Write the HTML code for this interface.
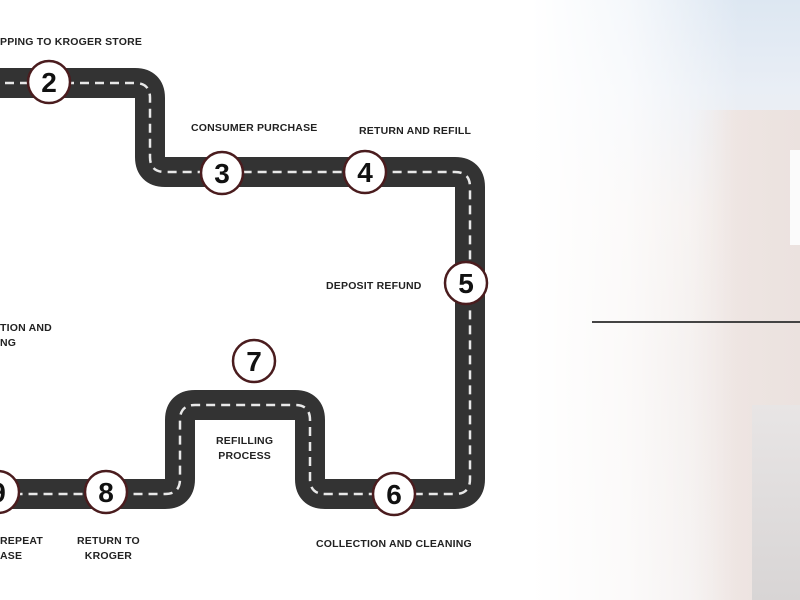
<!DOCTYPE html>
<html><head><meta charset="utf-8"><style>
html,body{margin:0;padding:0}
body{width:800px;height:600px;position:relative;overflow:hidden;background:#fff;font-family:"Liberation Sans",sans-serif}
.bg{position:absolute;left:520px;top:0;width:280px;height:600px;
background:linear-gradient(180deg,#dde7f2 0%,#e9eef5 15%,#f3eeec 35%,#f1ebe9 60%,#f2eeed 100%);}
.bldg{position:absolute;left:690px;top:110px;width:110px;height:490px;background:linear-gradient(90deg,rgba(238,228,225,0),#eee5e2 40%,#ebe2df)}
.win{position:absolute;left:790px;top:150px;width:10px;height:95px;background:#fbfbfb}
.door{position:absolute;left:752px;top:405px;width:48px;height:195px;background:linear-gradient(180deg,#e8e5e5,#d8d5d5)}
.fade{position:absolute;left:520px;top:0;width:220px;height:600px;background:linear-gradient(90deg,#fff 5%,rgba(255,255,255,0.7) 50%,rgba(255,255,255,0))}
.line{position:absolute;left:592px;top:321px;width:208px;height:2px;background:#444}
.t{position:absolute;font-size:10.5px;font-weight:bold;color:#222;letter-spacing:0.2px;line-height:15px;text-align:center;white-space:nowrap}
</style></head><body>
<div class="bg"></div><div class="bldg"></div><div class="win"></div><div class="door"></div><div class="fade"></div>
<div class="line"></div>
<svg width="800" height="600" style="position:absolute;left:0;top:0">
<path d="M-10 83 H135 Q150 83 150 98 V157 Q150 172 165 172 H455 Q470 172 470 187 V479 Q470 494 455 494 H325 Q310 494 310 479 V420 Q310 405 295 405 H195 Q180 405 180 420 V479 Q180 494 165 494 H-10" fill="none" stroke="#333" stroke-width="30"/>
<path d="M-10 83 H135 Q150 83 150 98 V157 Q150 172 165 172 H455 Q470 172 470 187 V479 Q470 494 455 494 H325 Q310 494 310 479 V420 Q310 405 295 405 H195 Q180 405 180 420 V479 Q180 494 165 494 H-10" fill="none" stroke="#e8e8e8" stroke-width="2.5" stroke-dasharray="9 6"/>
<g fill="#fff" stroke="#4a1c1e" stroke-width="2.5">
<circle cx="49" cy="82" r="21"/><circle cx="222" cy="173" r="21"/><circle cx="365" cy="172" r="21"/><circle cx="466" cy="283" r="21"/><circle cx="394" cy="494" r="21"/><circle cx="254" cy="361" r="21"/><circle cx="106" cy="492" r="21"/><circle cx="-2" cy="492" r="21"/>
</g>
<g fill="#111" font-family="Liberation Sans,sans-serif" font-size="28" font-weight="bold" text-anchor="middle">
<text x="49" y="92">2</text><text x="222" y="183">3</text><text x="365" y="182">4</text><text x="466" y="293">5</text><text x="394" y="504">6</text><text x="254" y="371">7</text><text x="106" y="502">8</text><text x="-2" y="502">9</text>
</g>
</svg>
<div class="t" style="left:0;top:35px;text-align:left">PPING TO KROGER STORE</div>
<div class="t" style="left:191px;top:121px">CONSUMER PURCHASE</div>
<div class="t" style="left:359px;top:124px">RETURN AND REFILL</div>
<div class="t" style="left:326px;top:279px">DEPOSIT REFUND</div>
<div class="t" style="left:0;top:321px;text-align:left">TION AND<br>NG</div>
<div class="t" style="left:216px;top:434px">REFILLING<br>PROCESS</div>
<div class="t" style="left:0;top:534px;text-align:left">REPEAT<br>ASE</div>
<div class="t" style="left:77px;top:534px">RETURN TO<br>KROGER</div>
<div class="t" style="left:316px;top:537px">COLLECTION AND CLEANING</div>
</body></html>
